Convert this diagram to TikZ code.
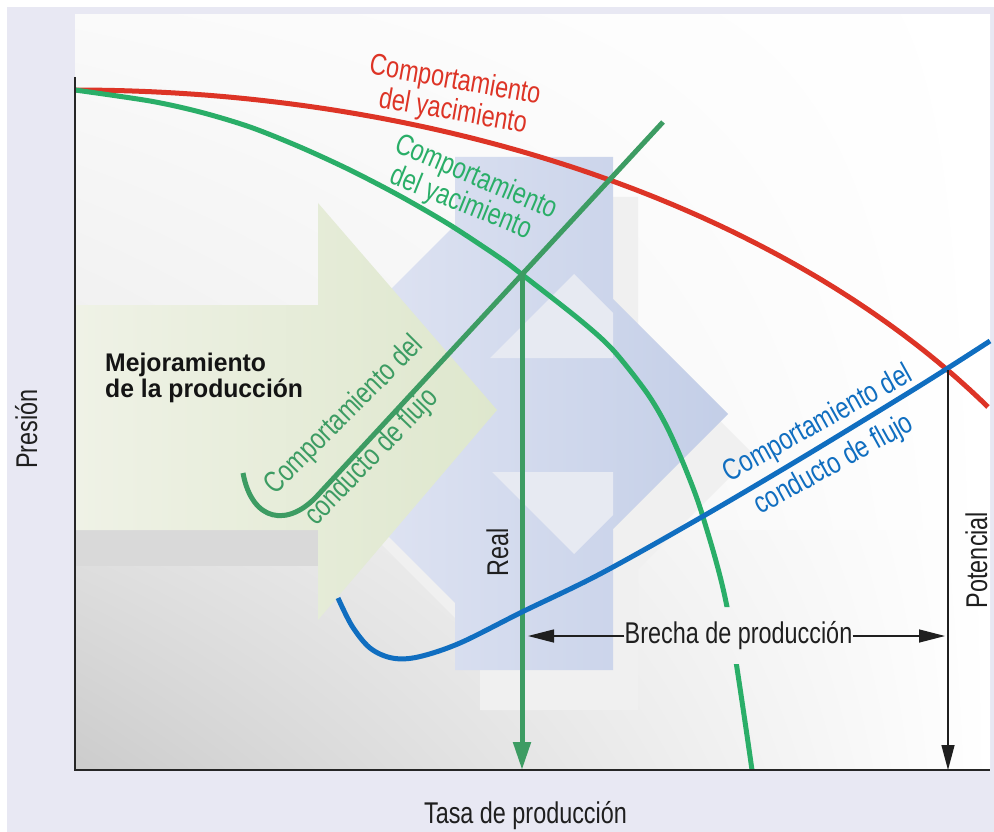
\documentclass[tikz,border=0pt]{standalone}
\usepackage{fontspec}
\setmainfont{Liberation Sans}
\newfontfamily\labfont{Liberation Sans}[FakeStretch=0.78]
\newfontfamily\mejfont{Liberation Sans}[FakeStretch=0.97]
\usetikzlibrary{arrows.meta,shadings}
\definecolor{lav}{RGB}{232,232,243}
\definecolor{cred}{RGB}{221,52,38}
\definecolor{cgreen}{RGB}{42,174,104}
\definecolor{cflow}{RGB}{61,156,99}
\definecolor{cblue}{RGB}{16,110,192}
\definecolor{bgreenL}{RGB}{239,242,230}
\definecolor{bgreenR}{RGB}{222,231,205}
\definecolor{bblueL}{RGB}{230,233,245}
\definecolor{bblueR}{RGB}{195,206,231}
\definecolor{chev}{RGB}{231,234,242}
\begin{document}
\begin{tikzpicture}[x=1pt,y=-1pt,
  lab/.style={font=\labfont\fontsize{30}{33}\selectfont, inner sep=0pt, anchor=base, text=black!88},
  thickcurve/.style={line width=5pt},
  axis/.style={line width=1.4pt, black!85},
  dimarrow/.style={line width=1.4pt, black!88, -{Triangle[length=26pt,width=13pt]}},
]
\useasboundingbox (0,0) rectangle (994,832);
\fill[white] (0,0) rectangle (994,832);
\fill[lav] (7,7) rectangle (994,832);
% panel background
\shade[upper left=black!2, lower left=black!8, upper right=white, lower right=white] (75,15) rectangle (990,530);
\shade[upper left=black!12, lower left=black!20, upper right=white, lower right=white] (75,530) rectangle (990,770);
\fill[black!15] (75,530) rectangle (318,566);
% grey shadow arrow
\fill[black!6, shift={(25,40)}] (455,157) -- (613,157) -- (613,299) -- (728,414) -- (613,529) -- (613,670) -- (455,670) -- (455,603) -- (266,414) -- (455,225) -- cycle;
% blue arrow
\shade[left color=bblueL, right color=bblueR] (455,157) -- (613,157) -- (613,299) -- (728,414) -- (613,529) -- (613,670) -- (455,670) -- (455,603) -- (266,414) -- (455,225) -- cycle;
\fill[chev] (490,358) -- (574,274) -- (613,313) -- (613,358) -- cycle;
\fill[chev] (492,472) -- (613,472) -- (613,515) -- (574,554) -- cycle;
% green arrow
\shade[left color=bgreenL, right color=bgreenR] (75,305) -- (318,305) -- (318,203) -- (497,410) -- (318,620) -- (318,530) -- (75,530) -- cycle;

% key points
\coordinate (O) at (75,770);
\coordinate (ytop) at (75,77);
\coordinate (xend) at (990,770);
\coordinate (X) at (522,274.5);
\coordinate (realEnd) at (522,770);
\coordinate (P) at (948,370);
\coordinate (potEnd) at (948,770);
\coordinate (gapL) at (528,636);
\coordinate (gapR) at (945,636);

% reservoir curves
\draw[cred, thickcurve] plot[domain=90:33.35, samples=100] ({75+1093*cos(\x)},{794-704*sin(\x)});
\begin{scope}
\clip (0,0) -- (994,0) -- (994,607) -- (715,607) -- (715,664) -- (994,664) -- (994,832) -- (0,832) -- cycle;
\draw[cgreen, thickcurve] plot[smooth, tension=0.5] coordinates {(75,90) (150,101) (200,112) (250,127) (300,147) (350,170) (400,196) (450,225) (500,258) (522,274.5) (580,320) (613,350) (647,393) (667,427) (686,470) (703,517) (727,607) (752,770)};
\end{scope}
% real arrow
\draw[cflow, line width=5pt, -{Triangle[length=28pt,width=17pt]}] (X) -- (realEnd);
% flow curves
\draw[cflow, thickcurve] (243,473) .. controls (252,522) and (288,528) .. (318,495) -- (663,122);
\draw[cblue, thickcurve] plot[smooth, tension=0.55] coordinates {(338,598) (352,626) (370,648) (392,658) (418,657) (460,643) (522,612) (600,574) (700,518) (800,459) (900,398) (948,368) (990,341)};

% axes
\draw[axis] (ytop) -- (O) -- (xend);
% potential arrow
\draw[line width=1.4pt, black!88, -{Triangle[length=25pt,width=13pt]}] (P) -- (potEnd);

% labels
\node[lab, rotate=90] (presion) at (37,429) {Presión};
\node[lab] (tasa) at (525.5,823) {Tasa de producción};
\node[lab, rotate=90] (real) at (508,552) {Real};
\node[lab, rotate=90] (pot) at (987,560) {Potencial};
\node[lab] (brecha) at (738.5,643) {Brecha de producción};
\draw[dimarrow] (brecha.west |- gapL) -- (gapL);
\draw[dimarrow] (brecha.east |- gapR) -- (gapR);
\node[font=\mejfont\bfseries\fontsize{25.5}{25.5}\selectfont, align=left, anchor=base west, inner sep=0pt, text=black!92] (mej) at (105,397) {Mejoramiento\\de la producción};

\node[lab, text=cred, rotate=-10] (r1) at (453.5,89) {Comportamiento};
\node[lab, text=cred, rotate=-10] (r2) at (451.5,120) {del yacimiento};
\node[lab, text=cgreen, rotate=-23] (g1) at (473,185) {Comportamiento};
\node[lab, text=cgreen, rotate=-22] (g2) at (458,211) {del yacimiento};
\node[lab, text=cflow, rotate=45] (f1) at (350,421) {Comportamiento del};
\node[lab, text=cflow, rotate=46] (f2) at (378,463) {conducto de flujo};
\node[lab, text=cblue, rotate=29] (b1) at (822,431) {Comportamiento del};
\node[lab, text=cblue, rotate=29] (b2) at (838,472) {conducto de flujo};
\end{tikzpicture}
\end{document}
